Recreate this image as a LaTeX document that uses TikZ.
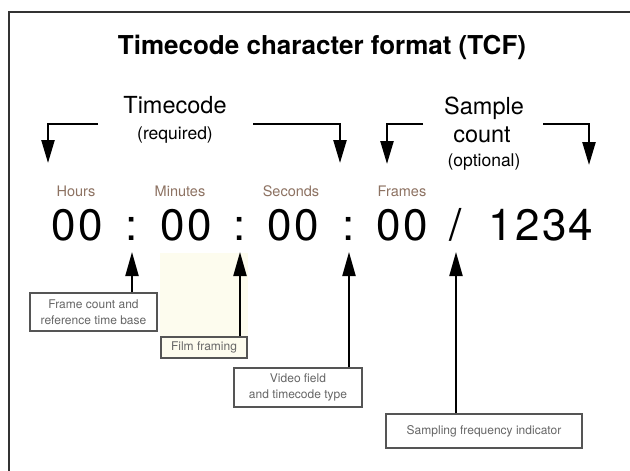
\documentclass[tikz,border=0pt]{standalone}
\usepackage{fontspec}
\setmainfont{TeX Gyre Heros}
\usetikzlibrary{arrows.meta}
\definecolor{fieldbrown}{RGB}{141,114,98}
\definecolor{boxgray}{RGB}{85,85,85}
\definecolor{filmtint}{RGB}{253,252,238}

\begin{document}
\begin{tikzpicture}[x=1pt,y=-1pt,
  bracket/.style={line width=2.4pt,-{Triangle[length=23pt,width=13pt]}},
  pointer/.style={line width=2.2pt,-{Triangle[length=24pt,width=13pt]}},
  infobox/.style={draw=boxgray,line width=1.3pt,text=black!60,inner sep=0pt,align=center,font=\fontsize{12}{15.5}\selectfont},
  field/.style={anchor=base,text=fieldbrown,font=\fontsize{14.5}{16}\selectfont},
  digits/.style={anchor=base,inner sep=0pt,font=\fontsize{44}{48}\selectfont\addfontfeature{LetterSpace=5}}]
\useasboundingbox (0,0) rectangle (630,471);
\fill[white] (0,0) rectangle (630,471);
\fill[filmtint] (160,253) rectangle (248,358);
\draw[black!80,line width=2pt] (9,471) -- (9,12) -- (630,12);

\node[anchor=base,font=\fontsize{26}{30}\selectfont\bfseries] (title) at (322,54) {Timecode character format (TCF)};

\node[anchor=base,font=\fontsize{23.5}{26}\selectfont] (tc) at (175,113) {Timecode};
\node[anchor=base,font=\fontsize{17.5}{20}\selectfont] (req) at (175,139) {(required)};
\node[anchor=base,font=\fontsize{23.5}{26}\selectfont] (sample) at (484,114) {Sample};
\node[anchor=base,font=\fontsize{23.5}{26}\selectfont] (count) at (482,142) {count};
\node[anchor=base,font=\fontsize{17.5}{20}\selectfont] (opt) at (484,166) {(optional)};

\coordinate (tcLeft) at (98,124);
\coordinate (hoursTip) at (48,163);
\coordinate (tcRight) at (253,124);
\coordinate (secTip) at (340,163);
\coordinate (scLeft) at (423,124);
\coordinate (framesTip) at (387,164);
\coordinate (scRight) at (543,124);
\coordinate (countTip) at (589,165);
\draw[bracket] (tcLeft) -| (hoursTip);
\draw[bracket] (tcRight) -| (secTip);
\draw[bracket] (scLeft) -| (framesTip);
\draw[bracket] (scRight) -| (countTip);

\node[field] (hours) at (76,196) {Hours};
\node[field] (minutes) at (180,196) {Minutes};
\node[field] (seconds) at (291,196) {Seconds};
\node[field] (frames) at (402,196) {Frames};

\node[digits] (hh) at (77,240) {00};
\node[digits] (colA) at (132,240) {:};
\node[digits] (mm) at (186,240) {00};
\node[digits] (colB) at (240,240) {:};
\node[digits] (ss) at (293,240) {00};
\node[digits] (colC) at (349,240) {:};
\node[digits] (ff) at (402,240) {00};
\node[digits] (slash) at (456,240) {/};
\node[digits] (samples) at (541,240) {1234};

\node[infobox,minimum width=127pt,minimum height=38pt] (timebase) at (93.5,312) {Frame count and\\reference time base};
\node[infobox,minimum width=86pt,minimum height=21pt] (film) at (204,347.5) {Film framing};
\node[infobox,minimum width=128pt,minimum height=39pt] (video) at (298,387.5) {Video field\\and timecode type};
\node[infobox,minimum width=196pt,minimum height=34pt] (rate) at (484,431) {Sampling frequency indicator};

\draw[pointer] (timebase.north -| colA) -- ([yshift=-12pt]colA.base);
\draw[pointer] (film.north -| colB) -- ([yshift=-12pt]colB.base);
\draw[pointer] (video.north -| colC) -- ([yshift=-12pt]colC.base);
\draw[pointer] (rate.north -| slash) -- ([yshift=-12pt]slash.base);
\end{tikzpicture}
\end{document}
